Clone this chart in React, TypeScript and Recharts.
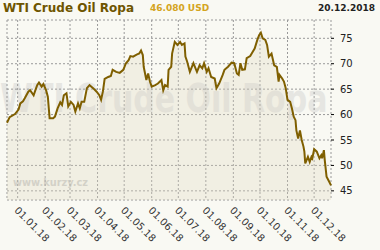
import React from 'react';
import { AreaChart, Area, XAxis, YAxis, CartesianGrid } from 'recharts';

// WTI Crude Oil, one year of closes
const dates = [
  '2017-12-20', '2017-12-23', '2017-12-29', '2018-01-02', '2018-01-04', '2018-01-07', '2018-01-09',
  '2018-01-13', '2018-01-15', '2018-01-19', '2018-01-21', '2018-01-23', '2018-01-25', '2018-01-28',
  '2018-01-30', '2018-02-02', '2018-02-04', '2018-02-06', '2018-02-10', '2018-02-12', '2018-02-15',
  '2018-02-18', '2018-02-20', '2018-02-22', '2018-02-25', '2018-02-27', '2018-03-02', '2018-03-05',
  '2018-03-07', '2018-03-10', '2018-03-12', '2018-03-14', '2018-03-17', '2018-03-20', '2018-03-23',
  '2018-03-27', '2018-03-31', '2018-04-03', '2018-04-05', '2018-04-07', '2018-04-09', '2018-04-13',
  '2018-04-16', '2018-04-18', '2018-04-22', '2018-04-26', '2018-04-30', '2018-05-03', '2018-05-06',
  '2018-05-08', '2018-05-11', '2018-05-15', '2018-05-18', '2018-05-20', '2018-05-22', '2018-05-23',
  '2018-05-26', '2018-05-28', '2018-05-30', '2018-06-01', '2018-06-05', '2018-06-08', '2018-06-12',
  '2018-06-14', '2018-06-16', '2018-06-19', '2018-06-20', '2018-06-23', '2018-06-24', '2018-06-27',
  '2018-06-30', '2018-07-03', '2018-07-05', '2018-07-08', '2018-07-09', '2018-07-11', '2018-07-14',
  '2018-07-18', '2018-07-22', '2018-07-25', '2018-07-28', '2018-07-30', '2018-08-02', '2018-08-04',
  '2018-08-07', '2018-08-11', '2018-08-13', '2018-08-16', '2018-08-20', '2018-08-22', '2018-08-26',
  '2018-08-30', '2018-09-02', '2018-09-05', '2018-09-07', '2018-09-09', '2018-09-11', '2018-09-14',
  '2018-09-16', '2018-09-20', '2018-09-23', '2018-09-25', '2018-09-28', '2018-09-30', '2018-10-02',
  '2018-10-04', '2018-10-07', '2018-10-09', '2018-10-11', '2018-10-14', '2018-10-17', '2018-10-20',
  '2018-10-22', '2018-10-23', '2018-10-26', '2018-10-28', '2018-10-30', '2018-11-01', '2018-11-04',
  '2018-11-06', '2018-11-08', '2018-11-10', '2018-11-11', '2018-11-13', '2018-11-15', '2018-11-17',
  '2018-11-19', '2018-11-20', '2018-11-21', '2018-11-24', '2018-11-26', '2018-11-28', '2018-11-29',
  '2018-12-01', '2018-12-04', '2018-12-07', '2018-12-09', '2018-12-10', '2018-12-12', '2018-12-13',
  '2018-12-15', '2018-12-18', '2018-12-20',
];

const prices = [
  58.4, 59.5, 60.1, 61.0, 62.2, 62.6, 63.2,
  64.5, 64.8, 63.8, 64.8, 65.8, 66.3, 65.5,
  66.0, 64.8, 63.5, 59.3, 59.3, 59.6, 61.2,
  62.4, 61.9, 63.8, 64.2, 61.6, 62.5, 61.9,
  60.6, 62.2, 61.2, 62.5, 62.5, 65.2, 65.8,
  65.2, 64.5, 63.8, 62.9, 64.5, 67.0, 67.4,
  67.6, 68.8, 68.4, 68.2, 68.8, 70.1, 70.7,
  71.5, 71.4, 71.8, 72.0, 72.6, 71.7, 69.4,
  66.8, 68.1, 66.5, 65.5, 65.8, 66.1, 66.8,
  64.8, 65.8, 65.5, 68.8, 69.4, 72.0, 74.3,
  73.7, 74.3, 73.7, 74.0, 71.4, 70.4, 68.4,
  70.1, 68.4, 69.7, 69.1, 70.1, 68.4, 69.1,
  67.4, 67.1, 65.2, 66.1, 67.8, 68.8, 69.4,
  70.2, 70.1, 68.1, 67.8, 70.1, 68.8, 68.9,
  71.1, 71.5, 72.4, 73.0, 74.7, 75.6, 76.1,
  75.0, 74.7, 73.7, 71.4, 72.0, 69.7, 69.4,
  66.5, 67.8, 67.1, 66.5, 65.2, 62.9, 62.5,
  61.2, 59.6, 58.9, 56.9, 55.3, 56.9, 55.0,
  53.7, 52.7, 50.4, 51.7, 50.7, 51.7, 51.4,
  53.2, 52.7, 51.4, 52.0, 51.4, 53.0, 51.0,
  47.8, 46.8, 46.08,
];

const monthTicks = [
  '2018-01-01', '2018-02-01', '2018-03-01', '2018-04-01', '2018-05-01', '2018-06-01',
  '2018-07-01', '2018-08-01', '2018-09-01', '2018-10-01', '2018-11-01', '2018-12-01',
];
const priceTicks = [45, 50, 55, 60, 65, 70, 75];
const startDate = '2017-12-20';
const endDate = '2018-12-20';

const data = dates.map((d, i) => ({ t: Date.parse(d), price: prices[i] }));
const xDomain = [Date.parse(startDate), Date.parse(endDate)];
const majorTicks = monthTicks.map((d) => Date.parse(d));

// short ticks on the 1st, 11th and 21st
const minorTicks: number[] = [];
['2017-12', ...monthTicks.map((m) => m.slice(0, 7))].forEach((m) => {
  ['01', '11', '21'].forEach((day) => {
    const t = Date.parse(`${m}-${day}`);
    if (t >= xDomain[0] && t <= xDomain[1]) minorTicks.push(t);
  });
});

const FONT = '"DejaVu Sans", Verdana, sans-serif';

const pad = (n: number) => String(n).padStart(2, '0');

const DateTick = ({ x, y, payload }: any) => {
  const d = new Date(payload.value);
  const label = `${pad(d.getUTCDate())}.${pad(d.getUTCMonth() + 1)}.${String(d.getUTCFullYear()).slice(2)}`;
  const ax = x - 4;
  const ay = y + 9;
  return (
    <text x={ax} y={ay} transform={`rotate(45, ${ax}, ${ay})`} fontSize={10} fill="#333" fontFamily={FONT}>
      {label}
    </text>
  );
};

const App: React.FC = () => {
  return (
    <div style={{ position: 'absolute', left: 0, top: 0, width: 380, height: 250, background: '#f9f9f3', overflow: 'hidden' }}>
      {/* watermark */}
      <svg width={380} height={250} style={{ position: 'absolute', left: 0, top: 0 }}>
        <g transform="translate(0, 112) scale(1, 1.33)">
          <text x={0} y={0} fontSize={30} fontWeight="bold" fill="#e6e6e2" fontFamily={FONT}>
            WTI Crude Oil Ropa
          </text>
        </g>
        <text x={13} y={186} fontSize={10} fontWeight="bold" fill="#cfcfcb" fontFamily={FONT} textLength={75} lengthAdjust="spacingAndGlyphs">
          www.kurzy.cz
        </text>
      </svg>

      <div style={{ position: 'absolute', left: 0, top: 0 }}>
        <AreaChart width={380} height={250} data={data} margin={{ top: 20, right: 0, bottom: 0, left: 7 }}>
          <CartesianGrid xAxisId="bottom" yAxisId="right" stroke="#999" strokeDasharray="2 2" />
          <XAxis
            xAxisId="top"
            orientation="top"
            type="number"
            dataKey="t"
            domain={xDomain}
            ticks={minorTicks}
            height={0}
            tick={false}
            axisLine={false}
            tickSize={4}
            tickLine={{ stroke: '#000' }}
          />
          <XAxis
            xAxisId="minor"
            type="number"
            dataKey="t"
            domain={xDomain}
            ticks={minorTicks}
            height={0}
            tick={false}
            axisLine={false}
            tickSize={3}
            tickLine={{ stroke: '#000' }}
          />
          <XAxis
            xAxisId="bottom"
            type="number"
            dataKey="t"
            domain={xDomain}
            ticks={majorTicks}
            height={50}
            axisLine={false}
            tickLine={false}
            tickSize={0}
            tick={<DateTick />}
            interval={0}
          />
          <YAxis
            yAxisId="left"
            orientation="left"
            mirror
            width={0}
            domain={[43.2, 78.6]}
            ticks={priceTicks}
            tick={false}
            axisLine={false}
            tickSize={3}
            tickLine={{ stroke: '#000' }}
          />
          <YAxis
            yAxisId="right"
            orientation="right"
            width={49}
            domain={[43.2, 78.6]}
            ticks={priceTicks}
            axisLine={false}
            tickSize={3}
            tickMargin={6}
            tickLine={{ stroke: '#000' }}
            tick={{ fontSize: 10, fill: '#222', fontFamily: FONT }}
          />
          <Area
            xAxisId="bottom"
            yAxisId="right"
            type="linear"
            dataKey="price"
            stroke="#7f5f00"
            strokeWidth={2}
            fill="#ddd8c0"
            fillOpacity={0.3}
            isAnimationActive={false}
            dot={false}
            activeDot={false}
          />
        </AreaChart>
      </div>

      <div style={{ position: 'absolute', left: 3, top: 1, fontFamily: FONT, fontWeight: 'bold', fontSize: 12, color: '#6e5500', whiteSpace: 'nowrap' }}>
        WTI Crude Oil Ropa
      </div>
      <div style={{ position: 'absolute', left: 150, top: 3, fontFamily: FONT, fontWeight: 'bold', fontSize: 9, color: '#d4a420', whiteSpace: 'nowrap' }}>
        46.080 USD
      </div>
      <div style={{ position: 'absolute', right: 5, top: 3, fontFamily: FONT, fontWeight: 'bold', fontSize: 9, color: '#222', whiteSpace: 'nowrap' }}>
        20.12.2018
      </div>
    </div>
  );
};

export default App;
